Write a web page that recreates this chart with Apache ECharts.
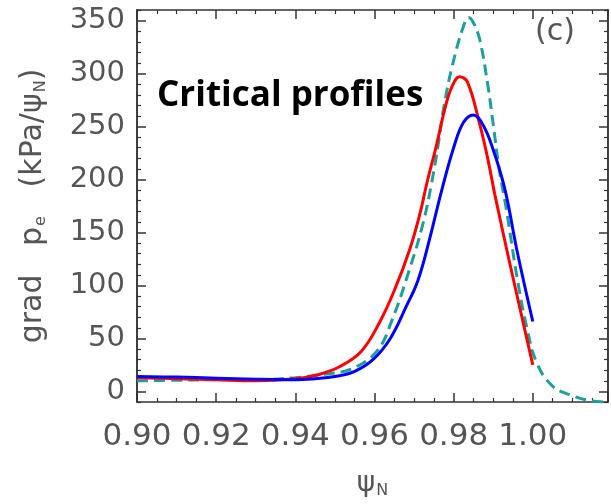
<!DOCTYPE html>
<html>
<head>
<meta charset="utf-8">
<title>Critical profiles</title>
<script src="https://cdn.jsdelivr.net/npm/echarts@6/dist/echarts.min.js"></script>
<style>
  html, body { margin: 0; padding: 0; background: #fff; }
  #main { width: 611px; height: 504px; }
</style>
</head>
<body>
<div id="main"></div>
<script>
// values (psi_N, grad pe in kPa/psi_N)
let psiRed = [0.900, 0.910, 0.920, 0.930, 0.940, 0.946, 0.951, 0.9567, 0.9614, 0.9652, 0.9689, 0.9715, 0.9732, 0.9757, 0.9778, 0.9795, 0.9815, 0.9835, 0.9866, 0.9886, 0.9904, 0.994, 0.9975, 1.000]
let gradRed = [13, 12, 11, 10, 12, 16, 23, 38, 66, 97, 134, 168, 196, 233, 267, 287, 297, 292, 252, 220, 186, 124, 66, 25]

let psiBlue = [0.900, 0.910, 0.920, 0.930, 0.940, 0.945, 0.950, 0.955, 0.9596, 0.964, 0.968, 0.971, 0.974, 0.977, 0.980, 0.9825, 0.985, 0.9875, 0.990, 0.993, 0.996, 1.000]
let gradBlue = [14, 13.5, 12.5, 11.5, 11, 12, 14, 19, 30, 50, 80, 105, 145, 190, 230, 254, 261, 251, 228, 190, 133, 66]

let psiTeal = [0.900, 0.910, 0.920, 0.930, 0.940, 0.947, 0.954, 0.9606, 0.9645, 0.969, 0.9723, 0.9744, 0.9761, 0.9776, 0.9797, 0.9825, 0.9838, 0.985, 0.9866, 0.9886, 0.990, 0.9915, 0.9934, 0.996, 0.9985, 1.001, 1.005, 1.010, 1.015, 1.019]
let gradTeal = [10, 10.5, 11, 11, 13, 16, 21, 38, 68, 117, 159, 196, 233, 270, 308, 345, 353, 348, 332, 290, 252, 210, 170, 108, 60, 27, 5, -4, -9, -10]

// tick values
let yMajor = [0, 50, 100, 150, 200, 250, 300, 350]
let yMinor = []
for (let v = -10; v <= 360; v += 10) {
  if (v % 50 !== 0) yMinor.push(v)
}

function pairs(xs, ys) {
  return xs.map((x, i) => [x, ys[i]])
}

let axisColor = '#333'
let textColor = '#555'

let xBase = {
  type: 'value',
  min: 0.90,
  max: 1.019,
  interval: 0.02,
  axisLine: { show: true, onZero: false, lineStyle: { color: axisColor, width: 1.5 } },
  axisTick: { show: true, inside: true, length: 9, lineStyle: { color: axisColor, width: 1.5 } },
  minorTick: { show: true, splitNumber: 4, length: 4, lineStyle: { color: axisColor, width: 1.2 } },
  splitLine: { show: false }
}

function yAxis(position, ticks, len, labels) {
  return {
    type: 'value',
    position: position,
    min: -10,
    max: 360,
    axisLine: { show: true, onZero: false, lineStyle: { color: axisColor, width: 1.5 } },
    axisTick: { show: true, inside: true, length: len, customValues: ticks, lineStyle: { color: axisColor, width: len > 5 ? 1.5 : 1.2 } },
    axisLabel: labels ? {
      show: true,
      customValues: yMajor,
      margin: 12,
      fontFamily: 'DejaVu Sans',
      fontSize: 29,
      color: textColor
    } : { show: false },
    splitLine: { show: false }
  }
}

let subStyle = { fontFamily: 'DejaVu Sans', fontSize: 16, color: textColor, verticalAlign: 'bottom', padding: [15, 0, 0, 1] }

let myChart = echarts.init(document.getElementById('main'))

let option = {
  animation: false,
  backgroundColor: '#fff',
  grid: { left: 137, top: 10, right: 3, bottom: 95 },
  xAxis: [
    Object.assign({}, xBase, {
      position: 'bottom',
      axisLabel: {
        margin: 19,
        showMaxLabel: false,
        fontFamily: 'DejaVu Sans',
        fontSize: 31,
        color: textColor,
        formatter: v => v.toFixed(2)
      },
      name: '{a|ψ}{s|N}',
      nameLocation: 'middle',
      nameGap: 66,
      nameTextStyle: {
        rich: {
          a: { fontFamily: 'DejaVu Sans', fontSize: 28, color: textColor },
          s: subStyle
        }
      }
    }),
    Object.assign({}, xBase, { position: 'top', axisLabel: { show: false } })
  ],
  yAxis: [
    Object.assign(yAxis('left', yMajor, 9, true), {
      name: '{a|grad   p}{s|e}{a|   (kPa/ψ}{s|N}{a|)}',
      nameLocation: 'middle',
      nameRotate: 90,
      nameGap: 88,
      nameTextStyle: {
        rich: {
          a: { fontFamily: 'DejaVu Sans', fontSize: 30, color: textColor },
          s: subStyle
        }
      }
    }),
    yAxis('left', yMinor, 4, false),
    yAxis('right', yMajor, 9, false),
    yAxis('right', yMinor, 4, false)
  ],
  graphic: [
    {
      type: 'text',
      left: 157,
      top: 79,
      style: { text: 'Critical profiles', font: 'bold 35px "Open Sans"', fill: '#000' }
    },
    {
      type: 'text',
      left: 535,
      top: 17,
      style: { text: '(c)', font: '30px "DejaVu Sans"', fill: textColor }
    }
  ],
  series: [
    {
      name: 'teal',
      type: 'line',
      data: pairs(psiTeal, gradTeal),
      showSymbol: false,
      smooth: 0.4,
      lineStyle: { color: '#1f9e9a', width: 3, type: [11, 6] }
    },
    {
      name: 'red',
      type: 'line',
      data: pairs(psiRed, gradRed),
      showSymbol: false,
      smooth: 0.4,
      lineStyle: { color: '#ff0000', width: 3 }
    },
    {
      name: 'blue',
      type: 'line',
      data: pairs(psiBlue, gradBlue),
      showSymbol: false,
      smooth: 0.4,
      lineStyle: { color: '#0000ff', width: 3 }
    }
  ]
}

myChart.setOption(option)
</script>
</body>
</html>
